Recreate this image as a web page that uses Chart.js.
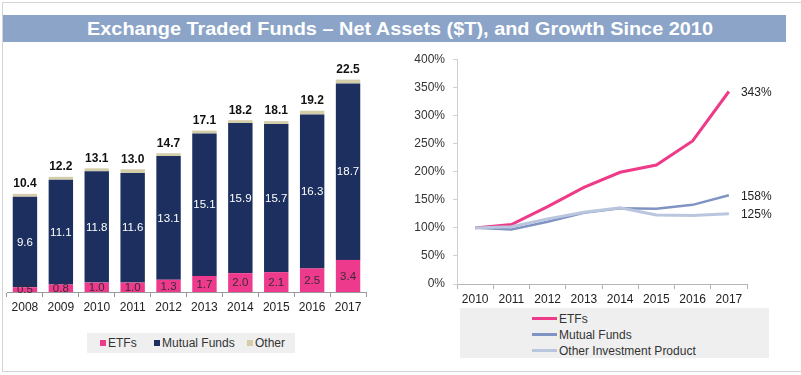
<!DOCTYPE html>
<html>
<head>
<meta charset="utf-8">
<script src="https://cdn.jsdelivr.net/npm/chart.js@4/dist/chart.umd.min.js"></script>
<style>
  body { margin:0; width:801px; height:375px; background:#fff; position:relative; overflow:hidden;
         font-family:"Liberation Sans", Arial, sans-serif; }
  #frame { position:absolute; left:2px; top:2px; width:799px; height:370px; box-sizing:border-box;
           border-top:1px solid #d4d4d4; border-left:1px solid #d4d4d4; border-bottom:1px solid #d4d4d4; }
  #titleBar { position:absolute; left:3px; top:15px; width:783px; height:27px; background:#8ba4c8; }
  #titleText { position:absolute; left:400px; top:28px; white-space:nowrap; color:#fff; font-weight:bold;
               font-size:19px; line-height:19px; transform-origin:center center; }
  .box { position:absolute; }
  #assetsLegend { position:absolute; left:87px; top:333px; width:208px; height:20px; background:#efefef;
                  font-size:12px; color:#333; }
  #assetsLegend .item { position:absolute; top:3px; line-height:14px; }
  #assetsLegend .sw { display:inline-block; width:6px; height:6px; margin-right:2px; vertical-align:1px; }
  #growthLegend { position:absolute; left:460px; top:308px; width:309px; height:50px; background:#efefef;
                  font-size:12px; color:#333; }
  #growthLegend .row { position:absolute; left:72px; line-height:14px; }
  #growthLegend .ln { display:inline-block; width:25px; height:3px; margin-right:2px; vertical-align:3px; }
</style>
</head>
<body>
<div id="frame"></div>
<div id="titleBar"></div>
<div id="titleText">Exchange Traded Funds – Net Assets ($T), and Growth Since 2010</div>

<div class="box" style="left:0;top:40px;width:395px;height:280px;"><canvas id="assets" width="395" height="280"></canvas></div>
<div class="box" style="left:400px;top:40px;width:400px;height:270px;"><canvas id="growth" width="400" height="270"></canvas></div>

<div id="assetsLegend">
  <span class="item" style="left:13px;"><span class="sw" style="background:#ee3a8c"></span>ETFs</span>
  <span class="item" style="left:67px;"><span class="sw" style="background:#1c2f5e"></span>Mutual Funds</span>
  <span class="item" style="left:160px;"><span class="sw" style="background:#d3cdaa"></span>Other</span>
</div>
<div id="growthLegend">
  <div class="row" style="top:4px;"><span class="ln" style="background:#ee3a88"></span>ETFs</div>
  <div class="row" style="top:20px;"><span class="ln" style="background:#8094c3"></span>Mutual Funds</div>
  <div class="row" style="top:36px;"><span class="ln" style="background:#bac6de"></span>Other Investment Product</div>
</div>

<script>
// Net assets by year, $ trillions
const years = ['2008','2009','2010','2011','2012','2013','2014','2015','2016','2017'];
const etfAssets = [0.5, 0.8, 1.0, 1.0, 1.3, 1.7, 2.0, 2.1, 2.5, 3.4];
const mutualFundAssets = [9.6, 11.1, 11.8, 11.6, 13.1, 15.1, 15.9, 15.7, 16.3, 18.7];
const otherAssets = [0.3, 0.3, 0.3, 0.4, 0.3, 0.3, 0.3, 0.3, 0.4, 0.4];

// Growth indexed to 2010 = 100%
const growthYears = ['2010','2011','2012','2013','2014','2015','2016','2017'];
const etfGrowth = [100, 106, 138, 172, 199, 212, 255, 343];
const mutualFundGrowth = [100, 97, 111, 127, 135, 134, 141, 158];
const otherGrowth = [100, 102, 116, 128, 136, 123, 122, 125];

const FONT = '"Liberation Sans", Arial, sans-serif';

// fit the title to its width
(function () {
  const t = document.getElementById('titleText');
  const w = t.getBoundingClientRect().width;
  const h = t.getBoundingClientRect().height;
  t.style.transform = 'translate(' + (-w / 2) + 'px,' + (-h / 2) + 'px) scaleX(' + (626 / w) + ')';
  t.style.transformOrigin = (w / 2) + 'px ' + (h / 2) + 'px';
})();

// value labels inside each segment and stack totals above each bar
const barLabels = {
  id: 'barLabels',
  afterDatasetsDraw(chart) {
    const ctx = chart.ctx;
    ctx.save();
    ctx.textAlign = 'center';
    ctx.textBaseline = 'middle';
    [0, 1].forEach(di => {
      const meta = chart.getDatasetMeta(di);
      const data = chart.data.datasets[di].data;
      ctx.fillStyle = di === 0 ? '#3a2a35' : '#ffffff';
      ctx.font = '11.5px ' + FONT;
      meta.data.forEach((el, i) => {
        ctx.fillText(data[i].toFixed(1), el.x, (el.y + el.base) / 2 + 0.5);
      });
    });
    const top = chart.getDatasetMeta(2);
    ctx.fillStyle = '#111';
    ctx.font = 'bold 12px ' + FONT;
    ctx.textBaseline = 'bottom';
    top.data.forEach((el, i) => {
      const total = etfAssets[i] + mutualFundAssets[i] + otherAssets[i];
      ctx.fillText(total.toFixed(1), el.x, el.y - 4);
    });
    ctx.restore();
  }
};

new Chart(document.getElementById('assets'), {
  type: 'bar',
  data: {
    labels: years,
    datasets: [
      { label: 'ETFs', data: etfAssets, backgroundColor: '#ee3a8c' },
      { label: 'Mutual Funds', data: mutualFundAssets, backgroundColor: '#1c2f5e' },
      { label: 'Other', data: otherAssets, backgroundColor: '#d3cdaa' }
    ]
  },
  options: {
    responsive: false,
    animation: false,
    barPercentage: 0.68,
    categoryPercentage: 1,
    layout: { padding: { left: 7, right: 29, top: 16, bottom: 0 } },
    plugins: { legend: { display: false }, tooltip: { enabled: false } },
    scales: {
      x: {
        stacked: true,
        grid: { offset: true, drawOnChartArea: false, tickLength: 5, color: '#9a9a9a' },
        border: { color: '#9a9a9a' },
        ticks: { color: '#222', font: { family: FONT, size: 12 }, padding: 3 },
        afterFit(scale) { scale.height = 28; }
      },
      y: { stacked: true, display: false, min: 0, max: 25 }
    }
  },
  plugins: [barLabels]
});

// percentage label at the end of each growth line
const endLabels = {
  id: 'endLabels',
  afterDatasetsDraw(chart) {
    const ctx = chart.ctx;
    ctx.save();
    ctx.font = '12px ' + FONT;
    ctx.fillStyle = '#222';
    ctx.textAlign = 'left';
    ctx.textBaseline = 'middle';
    chart.data.datasets.forEach((ds, di) => {
      const meta = chart.getDatasetMeta(di);
      const last = meta.data[meta.data.length - 1];
      ctx.fillText(ds.data[ds.data.length - 1] + '%', last.x + 12, last.y + 1);
    });
    ctx.restore();
  }
};

new Chart(document.getElementById('growth'), {
  type: 'line',
  data: {
    labels: growthYears,
    datasets: [
      { label: 'Other Investment Product', data: otherGrowth, borderColor: '#bac6de', borderWidth: 3 },
      { label: 'Mutual Funds', data: mutualFundGrowth, borderColor: '#8094c3', borderWidth: 2.5 },
      { label: 'ETFs', data: etfGrowth, borderColor: '#ee3a88', borderWidth: 3 }
    ]
  },
  options: {
    responsive: false,
    animation: false,
    elements: { point: { radius: 0 }, line: { tension: 0 } },
    layout: { padding: { left: 0, right: 53, top: 19.5, bottom: 0 } },
    plugins: { legend: { display: false }, tooltip: { enabled: false } },
    scales: {
      x: {
        offset: true,
        grid: { offset: true, drawOnChartArea: false, tickLength: 5, color: '#b5b5b5' },
        border: { color: '#b5b5b5' },
        ticks: { color: '#222', font: { family: FONT, size: 12 }, padding: 3 },
        afterFit(scale) { scale.height = 26; }
      },
      y: {
        min: 0, max: 400,
        grid: { drawOnChartArea: false, tickLength: 4, color: '#d0d0d0' },
        border: { color: '#d0d0d0' },
        ticks: { stepSize: 50, color: '#333', font: { family: FONT, size: 12 }, padding: 8,
                 callback: v => v + '%' },
        afterFit(scale) { scale.width = 57; }
      }
    }
  },
  plugins: [endLabels]
});
</script>
</body>
</html>
